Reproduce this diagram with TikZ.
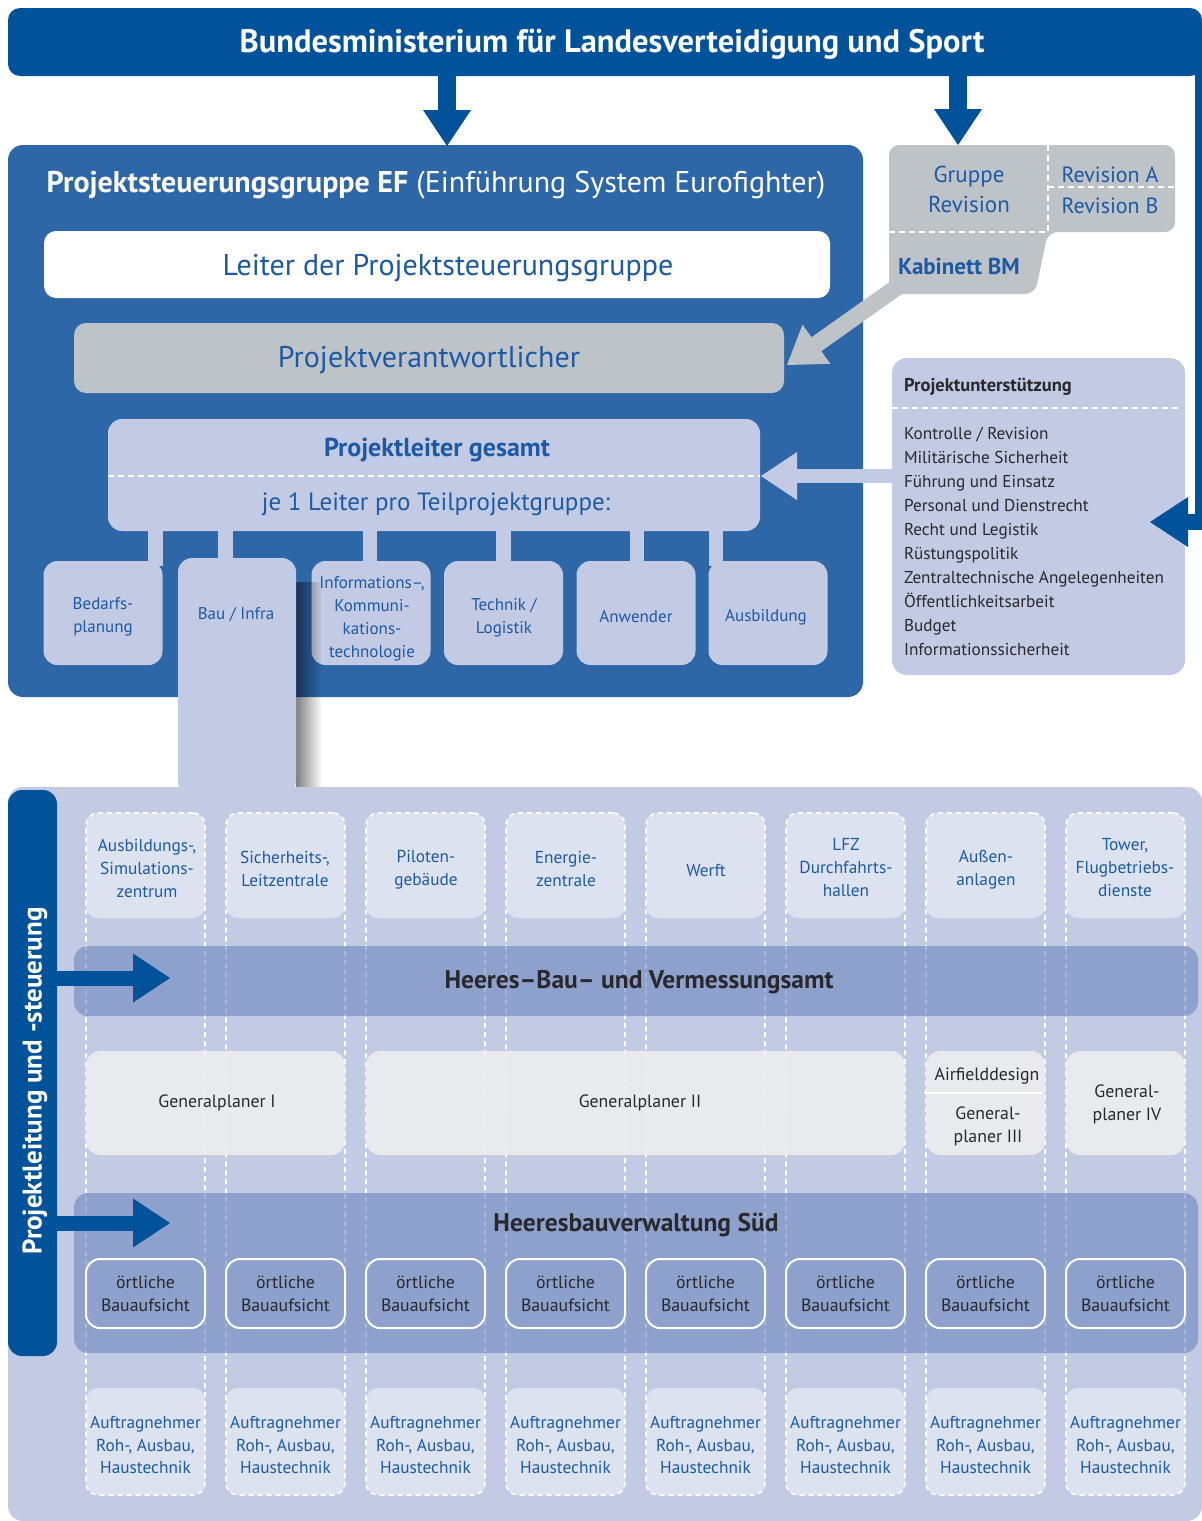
\documentclass[tikz,border=0pt]{standalone}
\usepackage{fontspec}
\setmainfont{PT Sans}
\usetikzlibrary{arrows.meta,calc,fadings}

\definecolor{dkblue}{RGB}{0,82,155}
\definecolor{medblue}{RGB}{46,103,168}
\definecolor{lav}{RGB}{195,202,227}
\definecolor{lavlight}{RGB}{221,226,241}
\definecolor{greybox}{RGB}{190,195,200}
\definecolor{gpfill}{RGB}{236,237,240}
\definecolor{bandfill}{RGB}{108,134,190}
\definecolor{txtblue}{RGB}{28,90,165}
\definecolor{txtdark}{RGB}{40,40,45}

\begin{document}
\begin{tikzpicture}[x=1pt,y=-1pt,
  every node/.style={inner sep=0pt,outer sep=0pt},
  panel/.style={draw=none,rounded corners=#1,inner sep=0pt},
  panel/.default=12pt,
  sizebox/.style 2 args={minimum width=#1,minimum height=#2},
  wdash/.style={draw=white,line width=2pt,dash pattern=on 6pt off 4pt},
  tip/.style 2 args={-{Triangle[length=#1,width=#2,line width=0pt]}},
  ft/.style 2 args={font=\fontsize{#1}{#2}\selectfont},
  fb/.style 2 args={font=\fontsize{#1}{#2}\selectfont\bfseries},
  subbox/.style={panel=14pt,fill=lav,sizebox={119pt}{104pt}},
  subtext/.style={ft={17}{23},text=txtblue,align=center},
  bar/.style={draw=lav,line width=14.5pt},
  coltext/.style={ft={17.3}{23},text=txtblue,align=center},
  gpbox/.style={panel=14pt,fill=gpfill,fill opacity=0.92},
  gptext/.style={ft={17.8}{23},text=txtdark,align=center},
  band/.style={panel=14pt,fill=bandfill,fill opacity=0.6},
]
\useasboundingbox (0,0) rectangle (1202,1521);

% ---------- ministry banner and its return line on the right ----------
\node[panel=12pt,fill=dkblue,sizebox={1194pt}{68pt}] (bmlv) at (605,42) {};
\draw[dkblue,line width=7pt] ($(bmlv.south east)+(-3.5,-12)$) -- ($(bmlv.south east)+(-3.5,454)$);
\node[fb={32.5}{36},text=white] (bmlvt) at (612,44) {Bundesministerium für Landesverteidigung und Sport};

% ---------- project steering group ----------
\node[panel=15pt,fill=medblue,sizebox={855pt}{552pt}] (psg) at (435.5,421) {};
\node[ft={30}{36},text=white] (psgt) at (436,185) {\textbf{Projektsteuerungsgruppe EF} (Einführung System Eurofighter)};

\node[panel=12pt,fill=white,sizebox={786pt}{67pt}] (leiter) at (437,264.5) {};
\node[ft={30}{36},text=txtblue] (leitert) at (448,268) {Leiter der Projektsteuerungsgruppe};

\node[panel=12pt,fill=greybox,sizebox={710pt}{70pt}] (pv) at (429,358) {};
\node[ft={30}{36},text=txtblue] (pvt) at (429,360) {Projektverantwortlicher};

% connector bars from the overall lead to the sub-project groups
\node[panel=14pt,fill=lav,sizebox={652pt}{112pt}] (plg) at (434,475) {};
\draw[bar] ($(plg.south)+(-278.5,-5)$) -- ($(plg.south)+(-278.5,35)$);
\draw[bar] ($(plg.south)+(-208.5,-5)$) -- ($(plg.south)+(-208.5,35)$);
\draw[bar] ($(plg.south)+(-64,-5)$) -- ($(plg.south)+(-64,35)$);
\draw[bar] ($(plg.south)+(69.5,-5)$) -- ($(plg.south)+(69.5,35)$);
\draw[bar] ($(plg.south)+(203,-5)$) -- ($(plg.south)+(203,35)$);
\draw[bar] ($(plg.south)+(282,-5)$) -- ($(plg.south)+(282,35)$);
\draw[wdash] ($(plg.west)+(0,1)$) -- ($(plg.east)+(0,1)$);
\node[fb={26}{28},text=txtblue] (plgt) at (437,450) {Projektleiter gesamt};
\node[ft={25}{28},text=txtblue] (plgs) at (436,504) {je 1 Leiter pro Teilprojektgruppe:};

\node[subbox] (bedarf) at (103,613) {};
\node[subbox] (info) at (371,613) {};
\node[subbox] (technik) at (503.5,613) {};
\node[subbox] (anwender) at (636,613) {};
\node[subbox] (ausb) at (768,613) {};

% drop shadow of the construction column
\fill[black,opacity=0.5,path fading=east] (296,582) rectangle (322,790);

% ---------- lower block: construction ----------
\node[panel=15pt,fill=lav,sizebox={1194pt}{734pt}] (lower) at (605,1154) {};
\node[panel=14pt,fill=lav,sizebox={118pt}{237pt}] (bau) at (237,676.5) {};

\node[subtext] at (103,617) {Bedarfs-\\planung};
\node[subtext] at (236,615) {Bau / Infra};
\node[subtext] at (372,619) {Informations–,\\Kommuni-\\kations-\\technologie};
\node[subtext] at (504,618) {Technik /\\Logistik};
\node[subtext] at (636,617) {Anwender};
\node[subtext] at (766,617) {Ausbildung};

% ---------- revision group and cabinet ----------
\fill[greybox,rounded corners=10pt] (889,145) -- (1175,145) -- (1175,232) -- (1048,232) -- (1035,294) -- (889,294) -- cycle;
\coordinate (grevtop) at (958,145);
\coordinate (kabcorner) at (900,285);
\draw[wdash] (1048,145) -- (1048,232);
\draw[wdash] (1048,187) -- (1175,187);
\draw[wdash] (889,232) -- (1048,232);
\node[ft={23}{30},text=txtblue,align=center] (grev) at (969,189) {Gruppe\\Revision};
\node[ft={22}{28},text=txtblue] (revA) at (1110,175) {Revision A};
\node[ft={22}{28},text=txtblue] (revB) at (1110,206) {Revision B};
\node[fb={23}{28},text=txtblue] (kab) at (959,266) {Kabinett BM};

% ---------- project support ----------
\node[panel=15pt,fill=lav,sizebox={293pt}{317pt}] (pu) at (1038.5,516.5) {};
\node[fb={18.5}{24},text=txtdark,anchor=base west] (puh) at (904,391) {Projektunterstützung};
\draw[wdash] ($(pu.north west)+(0,50)$) -- ($(pu.north east)+(-5,50)$);
\foreach \t [count=\i] in {Kontrolle / Revision,Militärische Sicherheit,Führung und Einsatz,Personal und Dienstrecht,Recht und Legistik,Rüstungspolitik,Zentraltechnische Angelegenheiten,Öffentlichkeitsarbeit,Budget,Informationssicherheit}
  \node[ft={17.2}{24},text=txtdark,anchor=base west] (pu\i) at (904,415+24*\i) {\t};

% ---------- block arrows ----------
\draw[dkblue,line width=18pt,tip={36pt}{48pt}] ($(bmlv.south)+(-158,-6)$) -- ($(psg.north)+(11.5,1)$);
\draw[dkblue,line width=18pt,tip={36pt}{48pt}] ($(bmlv.south)+(353,-6)$) -- (grevtop);
\draw[greybox,line width=17pt,tip={36pt}{48pt}] (kabcorner) -- ($(pv.east)+(3,7)$);
\draw[lav,line width=14pt,tip={36pt}{48pt}] ($(pu.west)+(2,-40.5)$) -- ($(plg.east)+(1,1)$);
\draw[dkblue,line width=16pt,tip={38pt}{50pt}] ($(pu.east)+(17,5.5)$) -- ($(pu.east)+(-35,5.5)$);

% ---------- steering bar on the left ----------
\node[panel=14pt,fill=dkblue,sizebox={49pt}{566pt}] (lbar) at (32.5,1073) {};
\node[fb={27}{30},text=white,rotate=90] (lbart) at (35,1081) {Projektleitung und -steuerung};

% ---------- building columns ----------
\foreach \k in {0,...,7}{
  \pgfmathsetmacro\cx{145.5+140*\k}
  \node[panel=12pt,fill=lavlight,sizebox={119pt}{105pt}] (top\k) at (\cx,865.5) {};
  \node[panel=12pt,fill=lavlight,sizebox={119pt}{107pt}] (bot\k) at (\cx,1441.5) {};
  \node[panel=12pt,draw=white,line width=1.6pt,dash pattern=on 5pt off 4pt,sizebox={119pt}{682pt}] (col\k) at (\cx,1154) {};
}

% general planners
\node[gpbox,sizebox={259pt}{104pt}] (gp1) at (215.5,1103) {};
\node[gpbox,sizebox={539pt}{104pt}] (gp2) at (635.5,1103) {};
\node[gpbox,sizebox={119pt}{104pt}] (gp3) at (985.5,1103) {};
\node[gpbox,sizebox={119pt}{104pt}] (gp4) at (1125.5,1103) {};
\draw[white,line width=2pt] ($(gp3.west)+(-2,-10)$) -- ($(gp3.east)+(-3,-10)$);

% authority bands
\node[band,sizebox={1124pt}{70pt}] (hbva) at (636,981) {};
\node[band,sizebox={1124pt}{160pt}] (hbvs) at (636,1273) {};

\draw[dkblue,line width=15pt,tip={37pt}{49pt}] ($(lbar.east)+(-2,-95)$) -- ($(hbva.west)+(96,-3)$);
\draw[dkblue,line width=15pt,tip={37pt}{49pt}] ($(lbar.east)+(-2,150)$) -- ($(hbvs.west)+(96,-50)$);

\node[fb={25.5}{28},text=txtdark] (hbvat) at (639,982) {Heeres–Bau– und Vermessungsamt};
\node[fb={25.5}{28},text=txtdark] (hbvst) at (636,1225) {Heeresbauverwaltung Süd};

\foreach \k in {0,...,7}{
  \pgfmathsetmacro\cx{145.5+140*\k}
  \node[panel=14pt,draw=white,line width=2pt,sizebox={119pt}{69pt}] (ob\k) at (\cx,1293.5) {};
  \node[gptext] at (\cx,1294) {örtliche\\Bauaufsicht};
  \node[ft={17.3}{22.5},text=txtblue,align=center] at (\cx,1445) {Auftragnehmer\\Roh-, Ausbau,\\Haustechnik};
}

% column headings
\node[coltext] at (147,868) {Ausbildungs-,\\Simulations-\\zentrum};
\node[coltext] at (285,869) {Sicherheits-,\\Leitzentrale};
\node[coltext] at (426,870) {Piloten-\\gebäude};
\node[coltext] at (566,869) {Energie-\\zentrale};
\node[coltext] at (706,870) {Werft};
\node[coltext] at (846,868) {LFZ\\Durchfahrts-\\hallen};
\node[coltext] at (986,870) {Außen-\\anlagen};
\node[coltext] at (1125,868) {Tower,\\Flugbetriebs-\\dienste};

\node[gptext] at (217,1103) {Generalplaner I};
\node[gptext] at (640,1103) {Generalplaner II};
\node[gptext] at (987,1076) {Airfielddesign};
\node[gptext] at (988,1126) {General-\\planer III};
\node[gptext] at (1127,1104) {General-\\planer IV};
\end{tikzpicture}
\end{document}
